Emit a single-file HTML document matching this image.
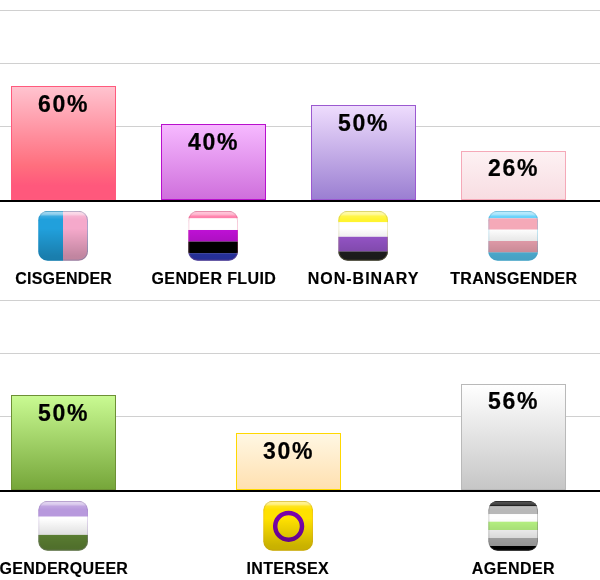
<!DOCTYPE html>
<html><head><meta charset="utf-8"><title>Gender identity chart</title>
<style>
html,body{margin:0;padding:0;background:#fff;}
body{width:600px;height:580px;position:relative;overflow:hidden;font-family:"Liberation Sans",sans-serif;font-weight:bold;color:#111;}
.g{position:absolute;left:0;width:600px;height:1px;background:#d0d0d0;}
.base{position:absolute;left:0;width:600px;height:2px;background:#000;}
.bar{position:absolute;width:105px;box-sizing:border-box;border:1px solid;}
.pct{position:absolute;width:105px;text-align:center;font-size:23px;line-height:24px;letter-spacing:1.65px;-webkit-text-stroke:0.22px #000;color:#000;white-space:nowrap;}
.lbl{position:absolute;width:200px;text-align:center;font-size:16px;line-height:18px;white-space:nowrap;color:#000;-webkit-text-stroke:0.15px #000;}
.ico{position:absolute;width:50px;height:50px;}
</style></head><body>
<svg width="0" height="0" style="position:absolute"><defs>
<linearGradient id="gl" x1="0" y1="0" x2="0" y2="1">
<stop offset="0" stop-color="#fff" stop-opacity="0.1"/>
<stop offset="0.025" stop-color="#fff" stop-opacity="0.58"/>
<stop offset="0.065" stop-color="#fff" stop-opacity="0.5"/>
<stop offset="0.105" stop-color="#fff" stop-opacity="0.12"/>
<stop offset="0.17" stop-color="#fff" stop-opacity="0"/>
<stop offset="0.35" stop-color="#000" stop-opacity="0"/>
<stop offset="0.9" stop-color="#000" stop-opacity="0.21"/>
<stop offset="1" stop-color="#000" stop-opacity="0.22"/>
</linearGradient>
<clipPath id="rc"><rect x="0.3" y="-0.16" width="49.7" height="49.86" rx="9.5" ry="9.5"/></clipPath>
<linearGradient id="ol" x1="0" y1="0" x2="0" y2="1"><stop offset="0" stop-color="#000" stop-opacity="0.12"/><stop offset="0.25" stop-color="#000" stop-opacity="0.03"/><stop offset="1" stop-color="#000" stop-opacity="0"/></linearGradient>
</defs></svg>

<div class="g" style="top:10px"></div>
<div class="g" style="top:63px"></div>
<div class="g" style="top:126px"></div>
<div class="g" style="top:300px"></div>
<div class="g" style="top:353px"></div>
<div class="g" style="top:416px"></div>
<div class="bar" style="left:11px;top:86px;height:114px;border-color:#ff5a7d;background:linear-gradient(to bottom,#ffc3cf 0%,#ff8c9b 45%,#ff6f7e 70%,#ff587c 88%,#ff587c 100%)"></div>
<div class="pct" style="left:11px;top:92px">60%</div>
<svg class="ico" style="left:38px;top:211px" viewBox="0 0 50 50"><g clip-path="url(#rc)"><rect x="0" y="0" width="25" height="50" fill="#21a0dc"/><rect x="25" y="0" width="25" height="50" fill="#f5a9cb"/><rect x="0.8" y="0.34" width="48.7" height="48.86" rx="9" ry="9" fill="none" stroke="#21a0dc" stroke-opacity="0.32"/><rect x="0" y="0" width="50" height="50" fill="url(#gl)"/></g><rect x="0.8" y="0.34" width="48.7" height="48.86" rx="9" ry="9" fill="none" stroke="url(#ol)"/></svg>
<div class="lbl" style="left:-36.5px;top:270px;letter-spacing:0.19px;padding-left:0.19px">CISGENDER</div>
<div class="bar" style="left:161px;top:124px;height:76px;border-color:#b810cc;background:linear-gradient(to bottom,#f6b9ff,#cf6fdc)"></div>
<div class="pct" style="left:161px;top:130px">40%</div>
<svg class="ico" style="left:188px;top:211px" viewBox="0 0 50 50"><g clip-path="url(#rc)"><rect x="0" y="0" width="50" height="7.4" fill="#ff76a4"/><rect x="0" y="7.4" width="50" height="11.6" fill="#fff"/><rect x="0" y="19" width="50" height="11.600000000000001" fill="#c011d7"/><rect x="0" y="30.6" width="50" height="11.600000000000001" fill="#000"/><rect x="0" y="42.2" width="50" height="7.799999999999997" fill="#2f3cbe"/><rect x="0.8" y="0.34" width="48.7" height="48.86" rx="9" ry="9" fill="none" stroke="#ff76a4" stroke-opacity="0.32"/><rect x="0" y="0" width="50" height="50" fill="url(#gl)"/></g><rect x="0.8" y="0.34" width="48.7" height="48.86" rx="9" ry="9" fill="none" stroke="url(#ol)"/></svg>
<div class="lbl" style="left:113.5px;top:270px;letter-spacing:0.39px;padding-left:0.39px">GENDER FLUID</div>
<div class="bar" style="left:311px;top:105px;height:95px;border-color:#9b59d0;background:linear-gradient(to bottom,#eedcfd,#9b7fd2)"></div>
<div class="pct" style="left:311px;top:111px">50%</div>
<svg class="ico" style="left:338px;top:211px" viewBox="0 0 50 50"><g clip-path="url(#rc)"><rect x="0" y="0" width="50" height="11.3" fill="#fff430"/><rect x="0" y="11.3" width="50" height="14.5" fill="#fff"/><rect x="0" y="25.8" width="50" height="14.7" fill="#9c59d1"/><rect x="0" y="40.5" width="50" height="9.5" fill="#222"/><rect x="0.8" y="0.34" width="48.7" height="48.86" rx="9" ry="9" fill="none" stroke="#d8d070" stroke-opacity="0.32"/><rect x="0" y="0" width="50" height="50" fill="url(#gl)"/></g><rect x="0.8" y="0.34" width="48.7" height="48.86" rx="9" ry="9" fill="none" stroke="url(#ol)"/></svg>
<div class="lbl" style="left:262.5px;top:270px;letter-spacing:1.0px;padding-left:1.0px">NON-BINARY</div>
<div class="bar" style="left:461px;top:151px;height:49px;border-color:#f5a9b8;background:linear-gradient(to bottom,#fdf1f3,#f8dde2)"></div>
<div class="pct" style="left:461px;top:156px">26%</div>
<svg class="ico" style="left:488px;top:211px" viewBox="0 0 50 50"><g clip-path="url(#rc)"><rect x="0" y="0" width="50" height="7.3" fill="#5bcefa"/><rect x="0" y="7.3" width="50" height="11.399999999999999" fill="#f5a9b8"/><rect x="0" y="18.7" width="50" height="11.3" fill="#fff"/><rect x="0" y="30" width="50" height="11.399999999999999" fill="#f5a9b8"/><rect x="0" y="41.4" width="50" height="8.600000000000001" fill="#5bcefa"/><rect x="0.8" y="0.34" width="48.7" height="48.86" rx="9" ry="9" fill="none" stroke="#5bcefa" stroke-opacity="0.32"/><rect x="0" y="0" width="50" height="50" fill="url(#gl)"/></g><rect x="0.8" y="0.34" width="48.7" height="48.86" rx="9" ry="9" fill="none" stroke="url(#ol)"/></svg>
<div class="lbl" style="left:413.5px;top:270px;letter-spacing:0.33px;padding-left:0.33px">TRANSGENDER</div>
<div class="bar" style="left:11px;top:395px;height:95px;border-color:#6d9035;background:linear-gradient(to bottom,#c9fa92,#76a63a)"></div>
<div class="pct" style="left:11px;top:401px">50%</div>
<svg class="ico" style="left:38px;top:501px" viewBox="0 0 50 50"><g clip-path="url(#rc)"><rect x="0" y="0" width="50" height="15.7" fill="#b899dd"/><rect x="0" y="15.7" width="50" height="18.2" fill="#fff"/><rect x="0" y="33.9" width="50" height="16.1" fill="#668e38"/><rect x="0.8" y="0.34" width="48.7" height="48.86" rx="9" ry="9" fill="none" stroke="#b899dd" stroke-opacity="0.32"/><rect x="0" y="0" width="50" height="50" fill="url(#gl)"/></g><rect x="0.8" y="0.34" width="48.7" height="48.86" rx="9" ry="9" fill="none" stroke="url(#ol)"/></svg>
<div class="lbl" style="left:-36.5px;top:560px;letter-spacing:0.32px;padding-left:0.32px">GENDERQUEER</div>
<div class="bar" style="left:236px;top:433px;height:57px;border-color:#ffd800;background:linear-gradient(to bottom,#fff7e3,#ffe0b0)"></div>
<div class="pct" style="left:236px;top:439px">30%</div>
<svg class="ico" style="left:263px;top:501px" viewBox="0 0 50 50"><g clip-path="url(#rc)"><rect x="0" y="0" width="50" height="50" fill="#ffe100"/><circle cx="25.6" cy="25.3" r="13.4" fill="none" stroke="#7902aa" stroke-width="4.5"/><rect x="0.8" y="0.34" width="48.7" height="48.86" rx="9" ry="9" fill="none" stroke="#f0b040" stroke-opacity="0.32"/><rect x="0" y="0" width="50" height="50" fill="url(#gl)"/></g><rect x="0.8" y="0.34" width="48.7" height="48.86" rx="9" ry="9" fill="none" stroke="url(#ol)"/></svg>
<div class="lbl" style="left:187.5px;top:560px;letter-spacing:0.32px;padding-left:0.32px">INTERSEX</div>
<div class="bar" style="left:461px;top:384px;height:106px;border-color:#b9b9b9;background:linear-gradient(to bottom,#ffffff,#c6c6c6)"></div>
<div class="pct" style="left:461px;top:389px">56%</div>
<svg class="ico" style="left:488px;top:501px" viewBox="0 0 50 50"><g clip-path="url(#rc)"><rect x="0" y="0" width="50" height="5.2" fill="#000"/><rect x="0" y="5.2" width="50" height="7.999999999999999" fill="#b9b9b9"/><rect x="0" y="13.2" width="50" height="7.5" fill="#fff"/><rect x="0" y="20.7" width="50" height="8.3" fill="#b8f483"/><rect x="0" y="29" width="50" height="8" fill="#fff"/><rect x="0" y="37" width="50" height="8" fill="#b9b9b9"/><rect x="0" y="45" width="50" height="5" fill="#000"/><rect x="0.8" y="0.34" width="48.7" height="48.86" rx="9" ry="9" fill="none" stroke="#666" stroke-opacity="0.32"/><rect x="0" y="0" width="50" height="50" fill="url(#gl)"/><rect x="0" y="0" width="50" height="5.2" fill="#000" fill-opacity="0.45"/></g><rect x="0.8" y="0.34" width="48.7" height="48.86" rx="9" ry="9" fill="none" stroke="url(#ol)"/></svg>
<div class="lbl" style="left:413.0px;top:560px;letter-spacing:0.46px;padding-left:0.46px">AGENDER</div>
<div class="base" style="top:200px"></div>
<div class="base" style="top:490px"></div>
</body></html>
